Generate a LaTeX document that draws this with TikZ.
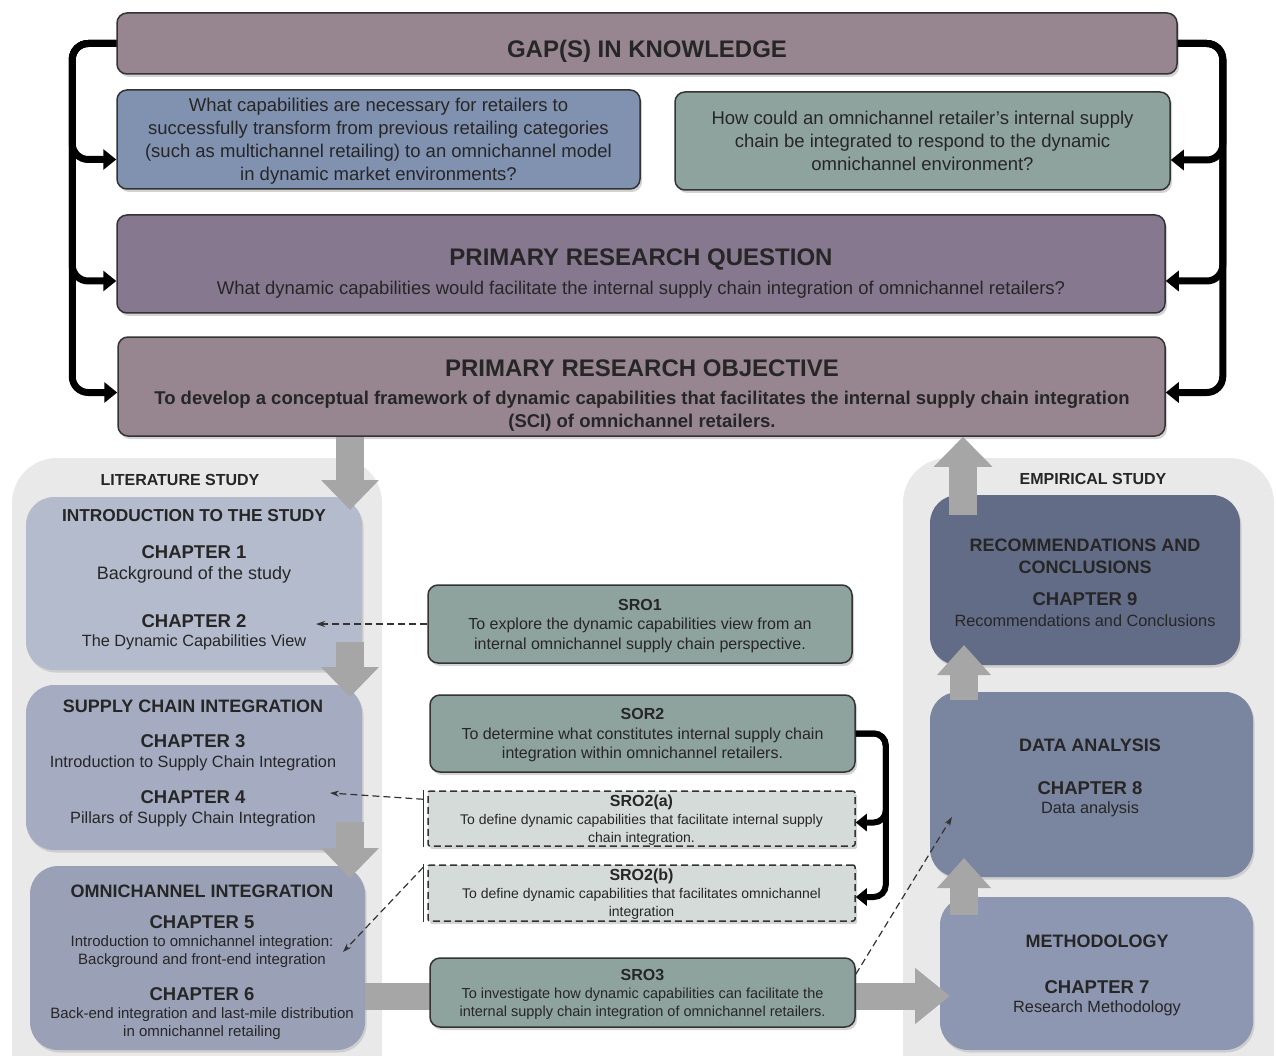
\documentclass[tikz,border=0pt]{standalone}
\usepackage{fontspec}
\setmainfont{Liberation Sans}
\usetikzlibrary{arrows.meta,shadows}

\definecolor{gapfill}{HTML}{978690}
\definecolor{qblue}{HTML}{8192B1}
\definecolor{qgreen}{HTML}{8FA39E}
\definecolor{prqfill}{HTML}{86798F}
\definecolor{panelgray}{HTML}{E9E9E9}
\definecolor{introfill}{HTML}{B4BBCC}
\definecolor{scifill}{HTML}{A5ACC1}
\definecolor{omnifill}{HTML}{9AA1B7}
\definecolor{recfill}{HTML}{636C86}
\definecolor{datafill}{HTML}{7A859F}
\definecolor{methfill}{HTML}{8D97B1}
\definecolor{sroa}{HTML}{D4DBD9}
\definecolor{blockgray}{HTML}{A6A6A6}
\definecolor{boxline}{HTML}{333333}
\definecolor{txt}{HTML}{262626}

\tikzset{
  box/.style={draw=boxline, line width=1.5pt, rounded corners=10pt, inner sep=0pt, align=center, text=txt,
    text depth=0pt, drop shadow={shadow xshift=2pt, shadow yshift=-3pt, opacity=.35}},
  chbox/.style={rounded corners=28pt, inner sep=0pt,
    drop shadow={shadow xshift=1.5pt, shadow yshift=-2.5pt, opacity=.25}},
  panel/.style={fill=panelgray, rounded corners=45pt, inner sep=0pt},
  dbox/.style={box, fill=sroa, dash pattern=on 7pt off 4pt, rounded corners=2pt},
  ttl/.style={font=\fontsize{24}{28}\selectfont\bfseries, text=txt},
  qtext/.style={font=\fontsize{18.5}{23}\selectfont},
  qbold/.style={font=\fontsize{18.5}{23}\selectfont\bfseries},
  sec/.style={font=\fontsize{18}{22}\selectfont\bfseries, text=txt, align=center},
  chap/.style={font=\fontsize{18.5}{22}\selectfont\bfseries, text=txt},
  desc/.style={font=\fontsize{16.3}{19}\selectfont, text=txt, align=center},
  odesc/.style={font=\fontsize{15}{18}\selectfont, text=txt, align=center},
  plabel/.style={font=\fontsize{16}{19}\selectfont\bfseries, text=txt},
  srotext/.style={font=\fontsize{16}{19.5}\selectfont},
  srosmall/.style={font=\fontsize{14}{18}\selectfont},
  brace/.style={line width=7pt, rounded corners=16pt, draw=black, -{Triangle[width=20pt,length=13pt]}},
  brace2/.style={line width=6pt, rounded corners=12pt, draw=black, -{Triangle[width=17pt,length=11pt]}},
  bigarrow/.style={draw=blockgray, line width=28pt, -{Triangle[width=56pt,length=30pt]}},
  dasharrow/.style={line width=1.2pt, dash pattern=on 7pt off 4pt, draw=boxline, -{Stealth[length=9pt,width=6pt]}},
}

\begin{document}
\begin{tikzpicture}[x=1pt, y=-1pt]
\useasboundingbox (0,0) rectangle (1276,1056);
\clip (0,0) rectangle (1276,1056);

% gap, questions, primary question and objective
\node[box, fill=gapfill, minimum width=1060pt, minimum height=61pt] (gap) at (647,43.5) {};
\node[ttl] (gapT) at (647,51) {GAP(S) IN KNOWLEDGE};

\node[box, fill=qblue, qtext, minimum width=523pt, minimum height=99pt] (qa) at (378.5,139.5)
  {What capabilities are necessary for retailers to\\successfully transform from previous retailing categories\\(such as multichannel retailing) to an omnichannel model\\in dynamic market environments?};
\node[box, fill=qgreen, qtext, minimum width=495pt, minimum height=98pt] (qb) at (922.5,141)
  {How could an omnichannel retailer’s internal supply\\chain be integrated to respond to the dynamic\\omnichannel environment?};

\node[box, fill=prqfill, minimum width=1048pt, minimum height=98pt] (prq) at (641,264) {};
\node[ttl] (prqT) at (641,259) {PRIMARY RESEARCH QUESTION};
\node[qtext, text=txt] (prqS) at (641,290) {What dynamic capabilities would facilitate the internal supply chain integration of omnichannel retailers?};

\node[box, fill=gapfill, minimum width=1047pt, minimum height=99pt] (pro) at (641.5,386.5) {};
\node[ttl] (proT) at (642,368) {PRIMARY RESEARCH OBJECTIVE};
\node[qbold, text=txt, align=center] (proS) at (642,411)
  {To develop a conceptual framework of dynamic capabilities that facilitates the internal supply chain integration\\(SCI) of omnichannel retailers.};

% brackets
\draw[brace] (gap.west) -- ++(-44,0) |- ([yshift=-20pt]qa.west);
\draw[brace] (gap.west) -- ++(-44,0) |- ([yshift=-17pt]prq.west);
\draw[brace] (gap.west) -- ++(-44,0) |- ([yshift=-6pt]pro.west);
\draw[brace] (gap.east) -- ++(45,0) |- ([yshift=-19pt]qb.east);
\draw[brace] (gap.east) -- ++(45,0) |- ([yshift=-17pt]prq.east);
\draw[brace] (gap.east) -- ++(45,0) |- ([yshift=-6pt]pro.east);

% study panels
\node[panel, minimum width=370pt, minimum height=640pt] (litP) at (197,778) {};
\node[panel, minimum width=371pt, minimum height=640pt] (empP) at (1088.5,778) {};
\node[plabel] (litL) at (180,480) {LITERATURE STUDY};
\node[plabel] (empL) at (1093,479) {EMPIRICAL STUDY};

% literature chapters
\node[chbox, fill=introfill, minimum width=336pt, minimum height=173pt] (intro) at (194,583.5) {};
\node[sec, font=\fontsize{17.3}{22}\selectfont\bfseries] (introT) at (194,516) {INTRODUCTION TO THE STUDY};
\node[chap] (ch1) at (194,552) {CHAPTER 1};
\node[desc, font=\fontsize{18}{22}\selectfont] (ch1d) at (194,575) {Background of the study};
\node[chap] (ch2) at (194,621) {CHAPTER 2};
\node[desc] (ch2d) at (194,642) {The Dynamic Capabilities View};

\node[chbox, fill=scifill, minimum width=336pt, minimum height=165pt] (sci) at (194,767.5) {};
\node[sec] (sciT) at (193,706) {SUPPLY CHAIN INTEGRATION};
\node[chap] (ch3) at (193,741) {CHAPTER 3};
\node[desc] (ch3d) at (193,763) {Introduction to Supply Chain Integration};
\node[chap] (ch4) at (193,797) {CHAPTER 4};
\node[desc] (ch4d) at (193,819) {Pillars of Supply Chain Integration};

\node[chbox, fill=omnifill, minimum width=335pt, minimum height=184pt] (omni) at (197.5,958) {};
\node[sec] (omniT) at (202,891) {OMNICHANNEL INTEGRATION};
\node[chap] (ch5) at (202,922) {CHAPTER 5};
\node[odesc] (ch5d) at (202,952) {Introduction to omnichannel integration:\\Background and front-end integration};
\node[chap] (ch6) at (202,994) {CHAPTER 6};
\node[odesc] (ch6d) at (202,1024) {Back-end integration and last-mile distribution\\in omnichannel retailing};

% empirical chapters
\node[chbox, fill=recfill, minimum width=310pt, minimum height=170pt] (rec) at (1085,580) {};
\node[sec] (recT) at (1085,556.5) {RECOMMENDATIONS AND\\CONCLUSIONS};
\node[chap] (ch9) at (1085,599) {CHAPTER 9};
\node[desc] (ch9d) at (1085,621) {Recommendations and Conclusions};

\node[chbox, fill=datafill, minimum width=323pt, minimum height=185pt] (data) at (1091.5,784.5) {};
\node[sec] (dataT) at (1090,745) {DATA ANALYSIS};
\node[chap] (ch8) at (1090,788) {CHAPTER 8};
\node[desc] (ch8d) at (1090,809) {Data analysis};

\node[chbox, fill=methfill, minimum width=313pt, minimum height=153pt] (meth) at (1096.5,973.5) {};
\node[sec] (methT) at (1097,941) {METHODOLOGY};
\node[chap] (ch7) at (1097,987) {CHAPTER 7};
\node[desc] (ch7d) at (1097,1008) {Research Methodology};

% flow into methodology (behind SRO3)
\coordinate (h2) at (950,996);
\draw[bigarrow, line width=27pt, -{Triangle[width=54pt,length=35pt]}] (omni.east |- h2) -- (h2);

% secondary research objectives
\node[box, fill=qgreen, srotext, minimum width=424pt, minimum height=78pt] (sro1) at (640,624)
  {\textbf{SRO1}\\To explore the dynamic capabilities view from an\\internal omnichannel supply chain perspective.};
\node[box, fill=qgreen, srotext, minimum width=425pt, minimum height=77pt] (sor2) at (642.5,733.5)
  {\textbf{SOR2}\\To determine what constitutes internal supply chain\\integration within omnichannel retailers.};
\node[dbox, srosmall, minimum width=427pt, minimum height=55pt] (sro2a) at (641.5,818.5)
  {{\fontsize{16}{18}\selectfont\bfseries SRO2(a)}\\To define dynamic capabilities that facilitate internal supply\\chain integration.};
\node[dbox, srosmall, minimum width=427pt, minimum height=56pt] (sro2b) at (641.5,893)
  {{\fontsize{16}{18}\selectfont\bfseries SRO2(b)}\\To define dynamic capabilities that facilitates omnichannel\\integration};
\node[box, fill=qgreen, srosmall, font=\fontsize{14.5}{18}\selectfont, minimum width=425pt, minimum height=69pt] (sro3) at (642.5,992.5)
  {{\fontsize{16}{18}\selectfont\bfseries SRO3}\\To investigate how dynamic capabilities can facilitate the\\internal supply chain integration of omnichannel retailers.};

\draw[brace2] (sor2.east) -- ++(30,0) |- ([yshift=-4pt]sro2a.east);
\draw[brace2] (sor2.east) -- ++(30,0) |- ([yshift=-4pt]sro2b.east);

% block arrows
\coordinate (d1) at (350,510);
\draw[bigarrow] (pro.south -| d1) -- (d1);
\coordinate (u2) at (350,642);
\coordinate (d2) at (350,697);
\draw[bigarrow] (u2) -- (d2);
\coordinate (u3) at (350,822);
\coordinate (d3) at (350,878);
\draw[bigarrow] (u3) -- (d3);
\coordinate (m1) at (964,915);
\coordinate (m2) at (964,858);
\draw[bigarrow, -{Triangle[width=52pt,length=30pt]}] (m1) -- (m2);
\coordinate (a1) at (964,700);
\coordinate (a2) at (964,645);
\draw[bigarrow, -{Triangle[width=52pt,length=30pt]}] (a1) -- (a2);
\coordinate (r1) at (963,515);
\draw[bigarrow, -{Triangle[width=57pt,length=30pt]}] (r1) -- (pro.south -| r1);

% dashed links to chapters
\coordinate (c2) at (316,624);
\draw[dasharrow] (sro1.west) -- (c2);
\draw[line width=1.2pt, draw=boxline] ([xshift=-4pt]sro2a.north west) -- ([xshift=-4pt]sro2a.south west);
\draw[line width=1.2pt, draw=boxline] ([xshift=-4pt]sro2b.north west) -- ([xshift=-4pt]sro2b.south west);
\coordinate (ba) at ([xshift=-4pt,yshift=-9pt]sro2a.north west);
\coordinate (bb) at ([xshift=-4pt,yshift=-3pt]sro2b.north west);
\coordinate (c4) at (330,793);
\coordinate (c5) at (343,952);
\draw[dasharrow] (ba) -- (c4);
\draw[dasharrow] (bb) -- (c5);
\coordinate (c8) at (952,817);
\draw[dasharrow] ([yshift=-17pt]sro3.north east) -- (c8);
\end{tikzpicture}
\end{document}
